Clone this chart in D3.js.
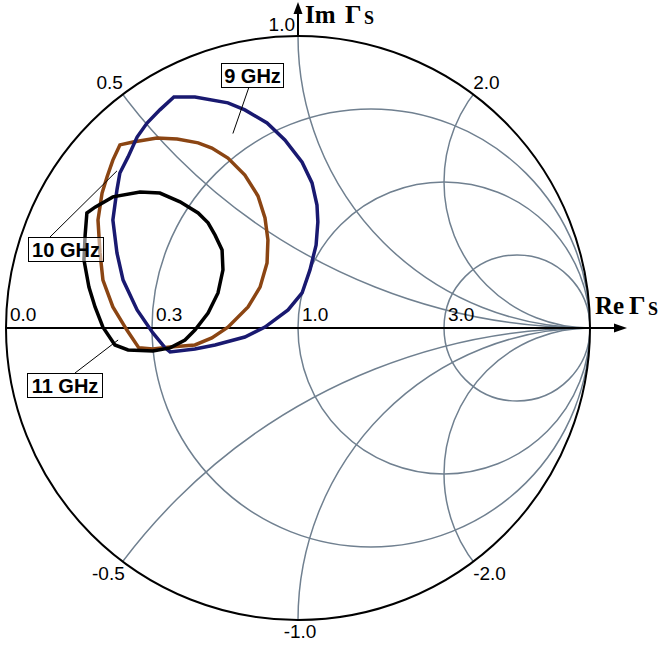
<!DOCTYPE html>
<html><head><meta charset="utf-8">
<script src="https://cdn.jsdelivr.net/npm/d3@7/dist/d3.min.js"></script>
<style>body{margin:0;background:#fff}</style>
</head><body>
<svg id="c" width="671" height="651"></svg>
<script>
// ---- data ----
const resistances = [1/3, 1, 3];
const resistanceLabelValues = [0, 1/3, 1, 3];
const resistanceLabels = ["0.0", "0.3", "1.0", "3.0"];
const reactances = [0.5, 1, 2, -0.5, -1, -2];
const reactanceLabels = ["0.5", "1.0", "2.0", "-0.5", "-1.0", "-2.0"];
const seriesNames = ["9 GHz", "10 GHz", "11 GHz"];

const re9 = [-0.425,-0.353,-0.240,-0.182,-0.106,-0.045,0.014,0.048,0.065,0.068,0.062,0.041,0.014,-0.034,-0.113,-0.182,-0.284,-0.353,-0.438,-0.455,-0.497,-0.551,-0.599,-0.620,-0.634,-0.620,-0.610,-0.582,-0.551,-0.517,-0.473];
const im9 = [0.791,0.791,0.771,0.747,0.702,0.644,0.568,0.497,0.421,0.363,0.284,0.199,0.120,0.062,0.003,-0.031,-0.058,-0.072,-0.082,-0.068,-0.017,0.062,0.164,0.257,0.370,0.473,0.531,0.586,0.654,0.702,0.747];

const re10 = [-0.610,-0.565,-0.483,-0.414,-0.342,-0.295,-0.240,-0.182,-0.137,-0.113,-0.103,-0.106,-0.130,-0.171,-0.240,-0.295,-0.353,-0.438,-0.497,-0.545,-0.586,-0.634,-0.668,-0.678,-0.685,-0.671,-0.654,-0.634];
const im10 = [0.627,0.637,0.651,0.647,0.634,0.616,0.582,0.524,0.452,0.377,0.301,0.223,0.140,0.072,0.003,-0.034,-0.058,-0.065,-0.072,-0.068,-0.007,0.072,0.164,0.257,0.370,0.462,0.517,0.575];

const re11 = [-0.723,-0.695,-0.634,-0.541,-0.473,-0.404,-0.342,-0.308,-0.284,-0.260,-0.257,-0.274,-0.308,-0.353,-0.387,-0.438,-0.497,-0.582,-0.627,-0.668,-0.695,-0.716,-0.733,-0.729];
const im11 = [0.394,0.414,0.449,0.466,0.462,0.432,0.394,0.360,0.318,0.267,0.199,0.120,0.051,-0.007,-0.041,-0.068,-0.079,-0.075,-0.058,0.003,0.072,0.140,0.233,0.318];

const seriesRe = [re9, re10, re11];
const seriesIm = [im9, im10, im11];
const seriesColors = ["#191970", "#8b4513", "#000000"];

// ---- chart ----
const svg = d3.select("#c");
const x = d3.scaleLinear().domain([-1, 1]).range([6, 590]);
const y = d3.scaleLinear().domain([-1, 1]).range([620, 36]);
const R = x(1) - x(0);
const grey = "#708090";

svg.append("defs").append("clipPath").attr("id", "uc")
  .append("circle").attr("cx", x(0)).attr("cy", y(0)).attr("r", R);

const grid = svg.append("g").attr("clip-path", "url(#uc)")
  .attr("fill", "none").attr("stroke", grey).attr("stroke-width", 1.5);

grid.selectAll("circle.r").data(resistances).join("circle").attr("class", "r")
  .attr("cx", r => x(r / (1 + r))).attr("cy", y(0))
  .attr("r", r => x(1 / (1 + r)) - x(0));

grid.selectAll("circle.x").data(reactances).join("circle").attr("class", "x")
  .attr("cx", x(1)).attr("cy", v => y(1 / v))
  .attr("r", v => x(1 / Math.abs(v)) - x(0));

// unit circle
svg.append("circle").attr("cx", x(0)).attr("cy", y(0)).attr("r", R)
  .attr("fill", "none").attr("stroke", "#000").attr("stroke-width", 2);

// axes
svg.append("line").attr("x1", x(-1)).attr("x2", 616).attr("y1", y(0)).attr("y2", y(0))
  .attr("stroke", "#000").attr("stroke-width", 2);
svg.append("path").attr("d", `M627,${y(0)} L614,${y(0)-4.5} L614,${y(0)+4.5} Z`).attr("fill", "#000");
svg.append("line").attr("x1", x(0)).attr("x2", x(0)).attr("y1", y(1)).attr("y2", 12)
  .attr("stroke", "#000").attr("stroke-width", 2);
svg.append("path").attr("d", `M${x(0)},2 L${x(0)-4.5},14 L${x(0)+4.5},14 Z`).attr("fill", "#000");

const font = "'Liberation Sans', Arial, sans-serif";
// resistance labels
svg.selectAll("text.rl").data(resistanceLabelValues).join("text").attr("class", "rl")
  .attr("x", r => x((r - 1) / (r + 1)) + 4).attr("y", y(0) - 7)
  .attr("font-family", font).attr("font-size", 19)
  .text((r, i) => resistanceLabels[i]);

// reactance labels
svg.selectAll("text.xl").data(reactances).join("text").attr("class", "xl")
  .each(function (v, i) {
    const gr = (v * v - 1) / (v * v + 1), gi = 2 * v / (v * v + 1);
    const px = x(gr), py = y(gi);
    let anchor = gr > 0.01 ? "start" : "end";
    let dx = 0;
    if (Math.abs(gr) <= 0.01) { anchor = v > 0 ? "end" : "middle"; dx = v > 0 ? -3 : 2; }
    else if (v < 0 && gr < 0) dx = 2;
    d3.select(this).attr("x", px + dx).attr("y", v > 0 ? py - 5 : py + 18)
      .attr("text-anchor", anchor);
  })
  .attr("font-family", font).attr("font-size", 19)
  .text((v, i) => reactanceLabels[i]);

// axis titles
const serif = "'Liberation Serif', 'Times New Roman', serif";
const imT = svg.append("text").attr("font-family", serif).attr("font-weight", "bold").attr("y", 23);
imT.append("tspan").attr("x", 305).attr("font-size", 25).text("Im");
imT.append("tspan").attr("x", 345).attr("font-size", 26).text("Γ");
imT.append("tspan").attr("x", 364).attr("font-size", 18).attr("dy", 1).text("S");
const reT = svg.append("text").attr("font-family", serif).attr("font-weight", "bold").attr("y", 314);
reT.append("tspan").attr("x", 595).attr("font-size", 25).text("Re");
reT.append("tspan").attr("x", 629).attr("font-size", 26).text("Γ");
reT.append("tspan").attr("x", 648).attr("font-size", 18).attr("dy", 1).text("S");

// curves
const line = d3.line().x(d => x(d[0])).y(d => y(d[1])).curve(d3.curveLinearClosed);
const drawOrder = [1, 0, 2];
drawOrder.forEach(k => {
  const pts = seriesRe[k].map((v, i) => [v, seriesIm[k][i]]);
  svg.append("path").attr("d", line(pts)).attr("fill", "none")
    .attr("stroke", seriesColors[k]).attr("stroke-width", 3.5)
    .attr("stroke-linejoin", "miter");
});

// callout labels (box position, leader end point in Γ)
const callouts = [
  { bx: 221, by: 63, w: 62, lx: 249, ly: 87, ex: -0.223, ey: 0.666 },
  { bx: 28, by: 237, w: 75, lx: 50, ly: 237, ex: -0.620, ey: 0.538 },
  { bx: 27, by: 373, w: 75, lx: 75, ly: 373, ex: -0.616, ey: -0.041 }
];
callouts.forEach((c, i) => {
  svg.append("line").attr("x1", c.lx).attr("y1", c.ly).attr("x2", x(c.ex)).attr("y2", y(c.ey))
    .attr("stroke", "#000").attr("stroke-width", 1);
  svg.append("rect").attr("x", c.bx + 0.5).attr("y", c.by + 0.5).attr("width", c.w).attr("height", 24)
    .attr("fill", "#fff").attr("fill-opacity", 0.5).attr("stroke", "#000").attr("stroke-width", 1);
  svg.append("text").attr("x", c.bx + c.w / 2 + 0.5).attr("y", c.by + 20)
    .attr("text-anchor", "middle").attr("font-family", font).attr("font-weight", "bold")
    .attr("font-size", 20).text(seriesNames[i]);
});
</script>
</body></html>
